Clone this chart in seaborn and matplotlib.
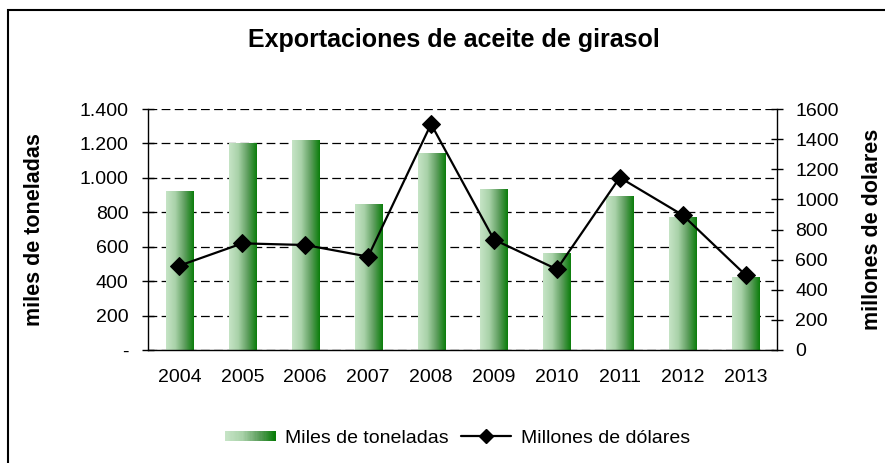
import numpy as np
import pandas as pd
import matplotlib
matplotlib.use("Agg")
import matplotlib.pyplot as plt
import seaborn as sns
from matplotlib.patches import Rectangle
from matplotlib.legend_handler import HandlerBase
from matplotlib.lines import Line2D
from matplotlib.colors import LinearSegmentedColormap
from matplotlib.ticker import FuncFormatter, MultipleLocator, FixedLocator

sns.set_style("white", {'text.color': 'black', 'axes.labelcolor': 'black',
                        'xtick.color': 'black', 'ytick.color': 'black'})
plt.rcParams['font.family'] = ['Liberation Sans', 'DejaVu Sans']

# data
years = ['2004', '2005', '2006', '2007', '2008', '2009', '2010', '2011', '2012', '2013']
miles_toneladas = [925, 1200, 1220, 850, 1145, 935, 565, 895, 775, 425]
millones_usd = [560, 708, 697, 620, 1500, 733, 536, 1145, 896, 498]

df = pd.DataFrame({'year': years, 'tn': miles_toneladas, 'usd': millones_usd})

green_cmap = LinearSegmentedColormap.from_list(
    'bar_green', ['#c6e4c6', '#a9d2a9', '#5f9f5f', '#0a7d0a'])

fig = plt.figure(figsize=(8.85, 4.63), dpi=100)
ax = fig.add_axes([148/885, 1 - 350/463, 629/885, 241/463])
ax2 = ax.twinx()

sns.barplot(data=df, x='year', y='tn', ax=ax, width=0.43, color='#7fbf7f',
            edgecolor='none', zorder=2)

# gradient fill for every bar
grad = np.linspace(0, 1, 256).reshape(1, -1)
for p in ax.patches:
    x0, y0 = p.get_x(), p.get_y()
    w, h = p.get_width(), p.get_height()
    p.set_facecolor('none')
    im = ax.imshow(grad, cmap=green_cmap, aspect='auto',
                   extent=[x0, x0 + w, y0, y0 + h], zorder=2)
    im.set_clip_path(p)

sns.lineplot(x=np.arange(len(years)), y=df['usd'], ax=ax2, color='black',
             marker='D', markersize=9, linewidth=1.6, markeredgecolor='black',
             zorder=5)

ax.set_xlim(-0.5, len(years) - 0.5)
ax.set_ylim(0, 1400)
ax2.set_ylim(0, 1600)

# grid from left axis
ax.yaxis.set_major_locator(MultipleLocator(200))
ax.grid(axis='y', color='black', linestyle=(0, (7, 3.5)), linewidth=0.9, zorder=1)
ax.grid(axis='x', visible=False)
ax.set_axisbelow(True)

ax.yaxis.set_major_formatter(FuncFormatter(
    lambda v, pos: '-' if v == 0 else f'{int(v):,}'.replace(',', '.')))
ax2.yaxis.set_major_locator(MultipleLocator(200))

# x ticks at category boundaries
ax.xaxis.set_minor_locator(FixedLocator(np.arange(-0.5, len(years), 1)))
ax.tick_params(axis='x', which='major', length=0, pad=14, labelsize=14)
ax.tick_params(axis='x', which='minor', length=6, direction='out', width=1)
ax.tick_params(axis='y', length=8, direction='inout', width=1, pad=10, labelsize=14)
ax2.tick_params(axis='y', length=8, direction='inout', width=1, pad=9, labelsize=14)

for a in (ax, ax2):
    a.spines['top'].set_visible(False)
    for s in ('left', 'right', 'bottom'):
        a.spines[s].set_color('black')
        a.spines[s].set_linewidth(1)
ax.spines['right'].set_visible(False)
ax2.spines['left'].set_visible(False)
ax2.spines['bottom'].set_visible(False)

ax.set_xlabel('')
ax.set_ylabel('miles de toneladas', fontsize=15.5, fontweight='bold')
ax2.set_ylabel('millones de dolares', fontsize=15.5, fontweight='bold', rotation=90)
ax.yaxis.set_label_coords(-0.164, 0.5)
ax2.yaxis.set_label_coords(1.135, 0.5)

fig.text(0.513, 0.914, 'Exportaciones de aceite de girasol', ha='center',
         va='center', fontsize=18, fontweight='bold')

# figure frame
fig.add_artist(Rectangle((8/885, -0.1), 1.2, 1.1 - 10/463, fill=False,
                         edgecolor='black', linewidth=1.5,
                         transform=fig.transFigure))


class GradientHandler(HandlerBase):
    def create_artists(self, legend, orig_handle, xdescent, ydescent,
                       width, height, fontsize, trans):
        n = 40
        arts = []
        for i in range(n):
            r = Rectangle((-xdescent + width * i / n, -ydescent + height * 0.1),
                          width / n + 0.3, height * 0.8,
                          facecolor=green_cmap(i / (n - 1)), edgecolor='none',
                          transform=trans)
            arts.append(r)
        return arts


bar_handle = Rectangle((0, 0), 1, 1)
line_handle = Line2D([], [], color='black', marker='D', markersize=7, linewidth=1.6)
fig.legend([bar_handle, line_handle], ['Miles de toneladas', 'Millones de dólares'],
           handler_map={bar_handle: GradientHandler()},
           loc='center', bbox_to_anchor=(0.517, 0.054), ncol=2, frameon=False,
           fontsize=14, handlelength=2.6, columnspacing=0.6, handletextpad=0.5)

fig.savefig('out.png', dpi=100)
